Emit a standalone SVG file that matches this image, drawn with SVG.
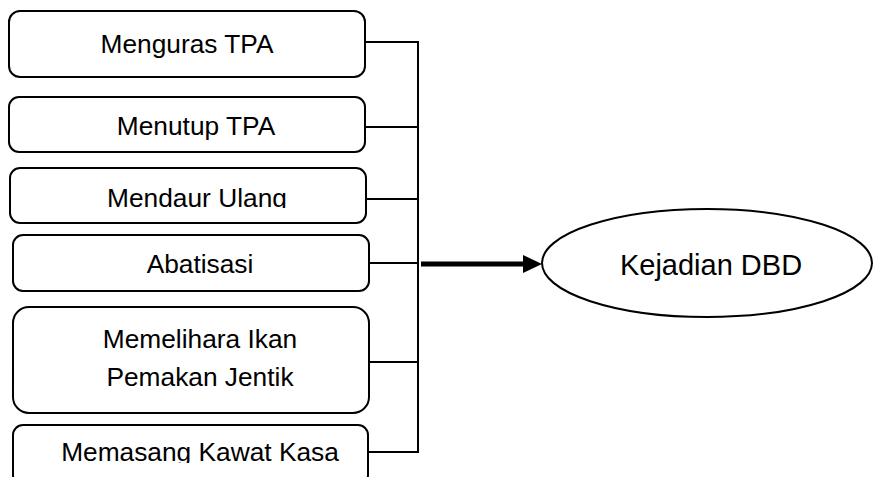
<svg xmlns="http://www.w3.org/2000/svg" width="873" height="477" viewBox="0 0 873 477">
<style>
.box{fill:#fff;stroke:#000;stroke-width:2}
.t{font-family:"Liberation Sans",Arial,sans-serif;font-size:26.3px;fill:#000;text-anchor:middle}
.ln{stroke:#000;stroke-width:2;fill:none}
</style>
<defs>
<clipPath id="c3"><rect x="0" y="160" width="400" height="48"/></clipPath>
<clipPath id="c6"><rect x="0" y="420" width="400" height="43"/></clipPath>
</defs>
<rect width="873" height="477" fill="#fff"/>
<g id="n1"><rect class="box" x="9" y="11" width="356" height="66" rx="11"/><text class="t" x="187" y="52.5">Menguras TPA</text></g>
<g id="n2"><rect class="box" x="9" y="97" width="356" height="55" rx="10"/><text class="t" x="196" y="135">Menutup TPA</text></g>
<g id="n3"><rect class="box" x="10" y="168" width="356" height="55" rx="10"/><text class="t" x="197" y="206.5" clip-path="url(#c3)">Mendaur Ulang</text></g>
<g id="n4"><rect class="box" x="13" y="235" width="356" height="56" rx="10"/><text class="t" x="200" y="273">Abatisasi</text></g>
<g id="n5"><rect class="box" x="13" y="307" width="356" height="106" rx="16"/><text class="t" x="200" y="348">Memelihara Ikan</text><text class="t" x="200" y="386">Pemakan Jentik</text></g>
<g id="n6"><rect class="box" x="13" y="425" width="355" height="60" rx="10"/><text class="t" x="200" y="460.5" clip-path="url(#c6)">Memasang Kawat Kasa</text></g>
<g id="n7"><ellipse cx="707" cy="263" rx="165" ry="54" fill="#fff" stroke="#000" stroke-width="2"/><text class="t" x="711" y="275" style="font-size:29px">Kejadian DBD</text></g>
<g id="connectors">
<path class="ln" d="M418 41V453M365 42H418M365 127H418M366 199H418M369 263H418M369 362H418M368 452H418"/>
<line x1="421" y1="264" x2="525" y2="264" stroke="#000" stroke-width="5"/>
<polygon points="523,255 542,264 523,273" fill="#000"/>
</g>
</svg>
